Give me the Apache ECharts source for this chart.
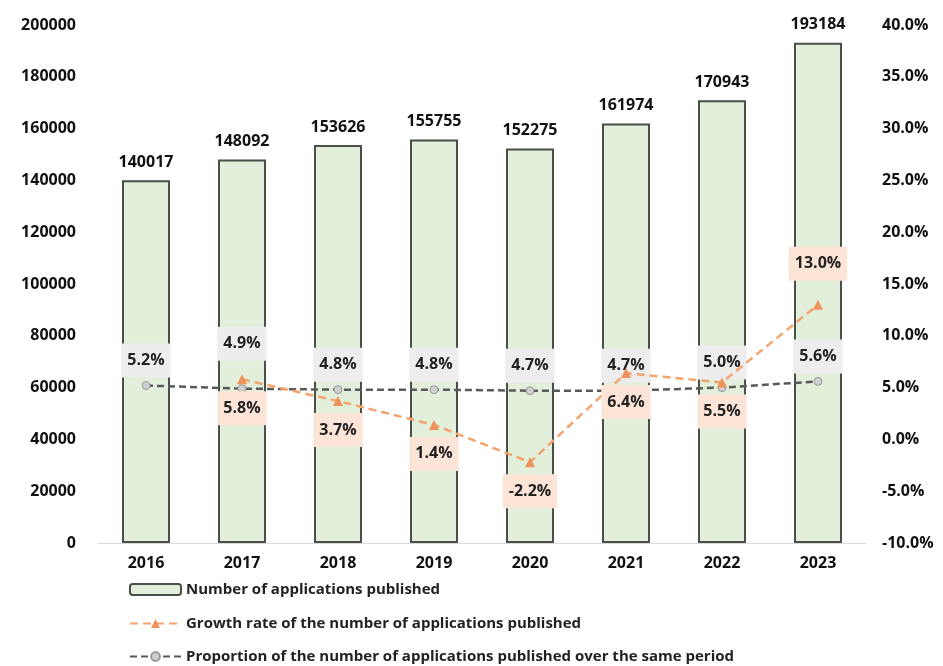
<!DOCTYPE html>
<html>
<head>
<meta charset="utf-8">
<script src="https://cdn.jsdelivr.net/npm/echarts@6/dist/echarts.min.js"></script>
<style>
  html, body { margin: 0; padding: 0; background: #fff; }
  #main { width: 943px; height: 666px; }
</style>
</head>
<body>
<div id="main"></div>
<script>
var years = ['2016', '2017', '2018', '2019', '2020', '2021', '2022', '2023'];
var published = [140017, 148092, 153626, 155755, 152275, 161974, 170943, 193184];
var growthRate = [null, 5.8, 3.7, 1.4, -2.2, 6.4, 5.5, 13.0];
var proportion = [5.2, 4.9, 4.8, 4.8, 4.7, 4.7, 5.0, 5.6];
var seriesNames = [
    'Number of applications published',
    'Growth rate of the number of applications published',
    'Proportion of the number of applications published over the same period'
];

var font = '"Open Sans", "DejaVu Sans", sans-serif';

// label offsets (pixels) for the two rate series
function growthItems() {
    return growthRate.map(function (v, i) {
        var off = i === 7 ? [0, -41] : [0, 29];
        return { value: v, label: { offset: off } };
    });
}
function proportionItems() {
    return proportion.map(function (v, i) {
        var off = i === 1 ? [0, -45] : [0, -25];
        return { value: v, label: { offset: off } };
    });
}

var pctLabel = function (p) { return p.value.toFixed(1) + '%'; };

// one legend per row so they stack like the original
var legendTops = [577, 611, 644];
var legends = seriesNames.map(function (name, i) {
    return {
        left: 124,
        top: legendTops[i],
        itemWidth: 51,
        itemHeight: 11,
        textStyle: { fontSize: 15, fontWeight: 'bold', color: '#222', fontFamily: font },
        data: [name]
    };
});

var option = {
    animation: false,
    textStyle: { fontFamily: font },
    grid: { left: 98, right: 77, top: 25, bottom: 123 },
    legend: legends,
    xAxis: {
        type: 'category',
        data: years,
        axisLine: { lineStyle: { color: '#d9d9d9' } },
        axisTick: { lineStyle: { color: '#d9d9d9' }, length: 5 },
        axisLabel: { color: '#111', fontSize: 16, fontWeight: 'bold', margin: 12 }
    },
    yAxis: [{
        type: 'value',
        min: 0,
        max: 200000,
        interval: 20000,
        splitLine: { show: false },
        axisLine: { show: false },
        axisLabel: {
            color: '#111', fontSize: 16, fontWeight: 'bold', margin: 22,
            formatter: function (v) { return String(v); }
        }
    }, {
        type: 'value',
        min: -10,
        max: 40,
        interval: 5,
        splitLine: { show: false },
        axisLine: { show: false },
        axisLabel: {
            color: '#111', fontSize: 16, fontWeight: 'bold', margin: 16,
            formatter: function (v) { return v.toFixed(1) + '%'; }
        }
    }],
    series: [{
        name: seriesNames[0],
        type: 'bar',
        barWidth: '50%',
        data: published,
        itemStyle: { color: '#e2efda', borderColor: '#4a4f4a', borderWidth: 2 },
        label: {
            show: true, position: 'top', distance: 10,
            color: '#111', fontSize: 16, fontWeight: 'bold'
        }
    }, {
        name: seriesNames[2],
        type: 'line',
        yAxisIndex: 1,
        z: 3,
        data: proportionItems(),
        symbol: 'circle',
        symbolSize: 8,
        itemStyle: { color: '#cfcfcf', borderColor: '#9a9a9a', borderWidth: 1 },
        lineStyle: { color: '#595959', width: 2.5, type: [7, 4] },
        label: {
            show: true, position: 'inside',
            formatter: pctLabel,
            color: '#222', fontSize: 16, fontWeight: 'bold',
            backgroundColor: '#ededed',
            padding: [9, 6]
        }
    }, {
        name: seriesNames[1],
        type: 'line',
        yAxisIndex: 1,
        z: 4,
        data: growthItems(),
        symbol: 'triangle',
        symbolSize: 10,
        itemStyle: { color: '#f0925a' },
        lineStyle: { color: '#f4a46e', width: 2.5, type: [8, 5] },
        label: {
            show: true, position: 'inside',
            formatter: pctLabel,
            color: '#222', fontSize: 16, fontWeight: 'bold',
            backgroundColor: '#fce4d6',
            padding: [9, 6]
        }
    }]
};

var chart = echarts.init(document.getElementById('main'));
chart.setOption(option);
</script>
</body>
</html>
